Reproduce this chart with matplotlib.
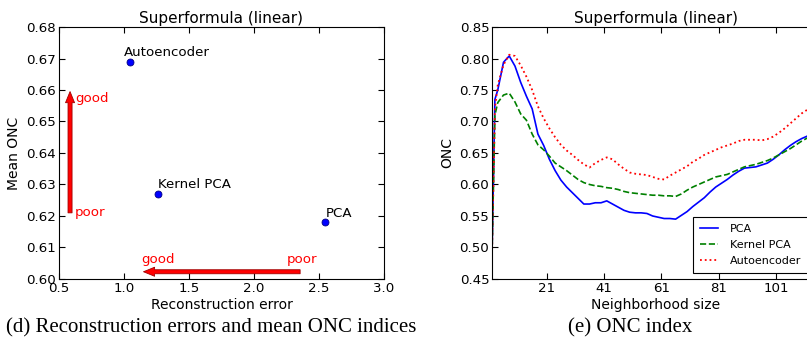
import matplotlib
matplotlib.use("Agg")
import matplotlib.pyplot as plt

# ---- data: left panel (reconstruction error vs mean ONC) ----
methods = ["PCA", "Kernel PCA", "Autoencoder"]
recon_error = [2.55, 1.26, 1.05]
mean_onc = [0.618, 0.627, 0.669]

# ---- data: right panel (ONC index vs neighborhood size) ----
k = [2, 3, 4, 6, 8, 10, 12, 14, 16, 18, 20, 22, 24, 26, 28, 30, 32, 34, 36, 38,
     40, 42, 44, 46, 48, 50, 52, 54, 56, 58, 60, 62, 64, 66, 68, 70, 72, 74, 76,
     78, 80, 82, 84, 86, 88, 90, 92, 94, 96, 98, 100, 102, 104, 106, 108, 110,
     112, 114, 116]
onc_pca = [0.49, 0.735, 0.75, 0.794, 0.804, 0.788, 0.762, 0.74, 0.72, 0.68,
           0.662, 0.64, 0.622, 0.607, 0.596, 0.587, 0.578, 0.569, 0.569, 0.571,
           0.571, 0.574, 0.569, 0.564, 0.559, 0.556, 0.555, 0.555, 0.554, 0.550,
           0.548, 0.546, 0.546, 0.545, 0.551, 0.557, 0.565, 0.572, 0.579, 0.588,
           0.596, 0.602, 0.608, 0.615, 0.621, 0.626, 0.627, 0.628, 0.631, 0.634,
           0.640, 0.647, 0.655, 0.662, 0.668, 0.673, 0.677, 0.682, 0.687]
onc_kpca = [0.49, 0.71, 0.73, 0.742, 0.745, 0.731, 0.712, 0.702, 0.68, 0.663,
            0.655, 0.645, 0.634, 0.628, 0.622, 0.615, 0.608, 0.603, 0.600, 0.598,
            0.597, 0.595, 0.594, 0.592, 0.589, 0.587, 0.586, 0.585, 0.584, 0.583,
            0.583, 0.582, 0.582, 0.581, 0.585, 0.591, 0.596, 0.600, 0.604, 0.608,
            0.612, 0.614, 0.616, 0.620, 0.624, 0.628, 0.630, 0.632, 0.635, 0.638,
            0.642, 0.647, 0.652, 0.657, 0.663, 0.669, 0.674, 0.679, 0.684]
onc_ae = [0.49, 0.72, 0.758, 0.79, 0.806, 0.804, 0.789, 0.771, 0.75, 0.724,
          0.705, 0.689, 0.675, 0.663, 0.654, 0.647, 0.639, 0.632, 0.627, 0.634,
          0.639, 0.643, 0.640, 0.632, 0.625, 0.619, 0.617, 0.616, 0.615, 0.612,
          0.609, 0.608, 0.614, 0.619, 0.624, 0.629, 0.636, 0.641, 0.647, 0.651,
          0.655, 0.659, 0.662, 0.665, 0.669, 0.671, 0.671, 0.671, 0.670, 0.672,
          0.676, 0.682, 0.689, 0.697, 0.705, 0.713, 0.719, 0.726, 0.733]

plt.rcParams["font.family"] = "DejaVu Sans"
plt.rcParams["font.size"] = 10
for ax_name in ("xtick", "ytick"):
    plt.rcParams[ax_name + ".direction"] = "in"
    plt.rcParams[ax_name + ".major.size"] = 4
    plt.rcParams[ax_name + ".major.pad"] = 2
    plt.rcParams[ax_name + ".labelsize"] = 9.6
plt.rcParams["xtick.top"] = True
plt.rcParams["ytick.right"] = True

fig = plt.figure(figsize=(8.07, 3.48), dpi=100)
ax1 = fig.add_axes([0.0731, 0.1983, 0.4027, 0.7241])
ax2 = fig.add_axes([0.6097, 0.1983, 0.4052, 0.7241])

# left panel
ax1.plot(recon_error, mean_onc, "o", color="b", ms=5, mec="navy", mew=0.6)
offsets = {"PCA": (0, 2), "Kernel PCA": (0, 2), "Autoencoder": (-5, 2)}
for name, x, y in zip(methods, recon_error, mean_onc):
    ax1.annotate(name, (x, y), xytext=offsets[name], textcoords="offset points",
                 ha="left", va="bottom", fontsize=9.6)

arrow = dict(facecolor="red", edgecolor="#a00000", lw=0.6,
             width=2.9, headwidth=6.5, headlength=8, shrink=0)
ax1.annotate("", xy=(0.585, 0.6595), xytext=(0.585, 0.621), arrowprops=arrow)
ax1.annotate("", xy=(1.15, 0.6023), xytext=(2.355, 0.6023), arrowprops=arrow)
ax1.text(0.625, 0.6572, "good", color="red", va="center", fontsize=9.6)
ax1.text(0.625, 0.6212, "poor", color="red", va="center", fontsize=9.6)
ax1.text(1.13, 0.6062, "good", color="red", va="center", fontsize=9.6)
ax1.text(2.25, 0.6062, "poor", color="red", va="center", fontsize=9.6)

ax1.set_xlim(0.5, 3.0)
ax1.set_ylim(0.60, 0.68)
ax1.set_xticks([0.5, 1.0, 1.5, 2.0, 2.5, 3.0])
ax1.set_yticks([0.60, 0.61, 0.62, 0.63, 0.64, 0.65, 0.66, 0.67, 0.68])
ax1.set_xlabel("Reconstruction error", labelpad=2)
ax1.set_ylabel("Mean ONC", labelpad=4)
ax1.set_title("Superformula (linear)", fontsize=11, pad=3)

# right panel
ax2.plot(k, onc_pca, "-", color="b", lw=1.2, label="PCA")
ax2.plot(k, onc_kpca, "--", color="g", lw=1.2, label="Kernel PCA")
ax2.plot(k, onc_ae, ":", color="r", lw=1.3, label="Autoencoder")
ax2.set_xlim(2, 116)
ax2.set_ylim(0.45, 0.85)
ax2.set_xticks([21, 41, 61, 81, 101])
ax2.set_yticks([0.45, 0.50, 0.55, 0.60, 0.65, 0.70, 0.75, 0.80, 0.85])
ax2.set_xlabel("Neighborhood size", labelpad=2)
ax2.set_ylabel("ONC", labelpad=4)
ax2.set_title("Superformula (linear)", fontsize=11, pad=3)
leg = ax2.legend(loc="lower left", bbox_to_anchor=(0.615, 0.024), borderaxespad=0,
                 fontsize=8, fancybox=False, framealpha=1, edgecolor="black",
                 handlelength=1.6, handletextpad=1.1, borderpad=0.6, labelspacing=0.55)
leg.get_frame().set_linewidth(0.8)

for ax in (ax1, ax2):
    for s in ax.spines.values():
        s.set_linewidth(0.8)

fig.text(0.262, 0.0575, "(d) Reconstruction errors and mean ONC indices",
         family="Liberation Serif", fontsize=15, ha="center", va="center")
fig.text(0.781, 0.0575, "(e) ONC index",
         family="Liberation Serif", fontsize=15, ha="center", va="center")

fig.savefig("out.png", dpi=100)
